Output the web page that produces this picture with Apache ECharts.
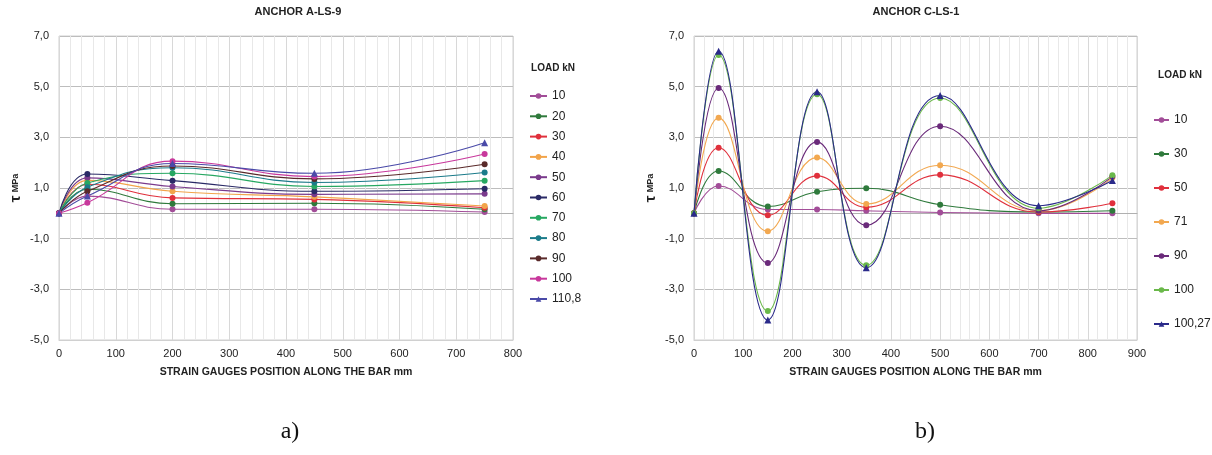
<!DOCTYPE html>
<html>
<head>
<meta charset="utf-8">
<script src="https://cdn.jsdelivr.net/npm/echarts@6/dist/echarts.min.js"></script>
<style>
html,body{margin:0;padding:0;background:#fff;}
#c{width:1212px;height:455px;}
</style>
</head>
<body>
<div id="c"></div>
<script>
// ---------- DATA ----------
const titleA = 'ANCHOR A-LS-9';
const titleB = 'ANCHOR C-LS-1';
const xNameText = 'STRAIN GAUGES POSITION ALONG THE BAR mm';
const legendTitle = 'LOAD kN';

// Chart a) gauge positions (mm)
const posA = [0, 50, 200, 450, 750];
const loadsA = ['10', '20', '30', '40', '50', '60', '70', '80', '90', '100', '110,8'];
const a10   = [0, 0.68, 0.16, 0.16, 0.05];
const a20   = [0, 0.95, 0.38, 0.40, 0.16];
const a30   = [0, 1.15, 0.61, 0.55, 0.22];
const a40   = [0, 1.30, 0.87, 0.65, 0.29];
const a50   = [0, 1.40, 1.06, 0.75, 0.77];
const a60   = [0, 1.55, 1.29, 0.87, 0.97];
const a70   = [0, 1.20, 1.58, 1.06, 1.29];
const a80   = [0, 1.03, 1.80, 1.22, 1.61];
const a90   = [0, 0.87, 1.87, 1.36, 1.94];
const a100  = [0, 0.42, 2.06, 1.45, 2.34];
const a1108 = [0, 0.68, 1.97, 1.58, 2.79];

// Chart b) gauge positions (mm)
const posB = [0, 50, 150, 250, 350, 500, 700, 850];
const loadsB = ['10', '30', '50', '71', '90', '100', '100,27'];
const b10    = [0, 1.08, 0.15, 0.15, 0.10, 0.03, 0.00, 0.00];
const b30    = [0, 1.67, 0.27, 0.85, 0.99, 0.34, 0.05, 0.10];
const b50    = [0, 2.59, -0.08, 1.48, 0.24, 1.52, 0.05, 0.40];
const b71    = [0, 3.77, -0.71, 2.20, 0.37, 1.90, 0.10, 1.40];
const b90    = [0, 4.95, -1.96, 2.82, -0.47, 3.44, 0.10, 1.45];
const b100   = [0, 6.25, -3.86, 4.70, -2.05, 4.55, 0.20, 1.50];
const b10027 = [0, 6.40, -4.21, 4.80, -2.15, 4.65, 0.30, 1.30];

// axis ranges / ticks
const yMin = -5, yMax = 7, yStep = 2;
const xMaxA = 800, xMaxB = 900, xStep = 100;

// ---------- STYLE ----------
const colorsA = ['#a24d98', '#2f7a3c', '#e0303c', '#f2a44a', '#7a3a8c', '#2a2a66', '#27a862', '#1b7b8a', '#5a2a2a', '#c8389c', '#4a4aa8'];
const colorsB = ['#a24d98', '#2f7a3c', '#e0303c', '#f2a850', '#6a2a7a', '#6ab84a', '#2a2a8a'];
const valsA = [a10, a20, a30, a40, a50, a60, a70, a80, a90, a100, a1108];
const valsB = [b10, b30, b50, b71, b90, b100, b10027];
const FONT = 'Liberation Sans';

function pairs(xs, ys) { return xs.map((x, i) => [x, ys[i]]); }

const series = [];
loadsA.forEach((n, i) => {
  series.push({
    name: 'A:' + n, type: 'line', xAxisIndex: 0, yAxisIndex: 0,
    data: pairs(posA, valsA[i]), smooth: 0.45,
    symbol: n === '110,8' ? 'triangle' : 'circle', symbolSize: n === '110,8' ? 7 : 6,
    lineStyle: { width: 1.1, color: colorsA[i] }, itemStyle: { color: colorsA[i] },
    z: 3
  });
});
loadsB.forEach((n, i) => {
  series.push({
    name: 'B:' + n, type: 'line', xAxisIndex: 2, yAxisIndex: 1,
    data: pairs(posB, valsB[i]), smooth: 0.45,
    symbol: n === '100,27' ? 'triangle' : 'circle', symbolSize: n === '100,27' ? 7 : 6,
    lineStyle: { width: 1.1, color: colorsB[i] }, itemStyle: { color: colorsB[i] },
    z: 3
  });
});

function yAxisCfg(gi) {
  return {
    type: 'value', gridIndex: gi, min: yMin, max: yMax, interval: yStep,
    name: '{t|τ} {m|MPa}', nameLocation: 'middle', nameGap: 36, nameRotate: 90,
    nameTextStyle: { rich: { t: { fontSize: 15, fontWeight: 'bold', fontFamily: FONT, color: '#222' }, m: { fontSize: 9, fontWeight: 'bold', fontFamily: FONT, color: '#222' } } },
    axisLine: { show: false }, axisTick: { show: false },
    axisLabel: { formatter: v => v.toFixed(1).replace('.', ','), fontFamily: FONT, fontSize: 11, color: '#222', margin: 10 },
    splitLine: { show: true, lineStyle: { color: '#bdbdbd', width: 1 } }
  };
}
function xAxisCfg(gi, max) {
  return {
    type: 'value', gridIndex: gi, min: 0, max: max, interval: xStep,
    name: xNameText, nameLocation: 'middle', nameGap: 27,
    nameTextStyle: { fontFamily: FONT, fontSize: 10.5, fontWeight: 'bold', color: '#222' },
    axisLine: { show: true, onZero: false, lineStyle: { color: '#d0d0d0' } }, axisTick: { show: false },
    axisLabel: { fontFamily: FONT, fontSize: 11, color: '#222', margin: 8 },
    splitLine: { show: true, lineStyle: { color: '#d8d8d8', width: 1 } },
    minorTick: { show: false, splitNumber: 5 },
    minorSplitLine: { show: true, lineStyle: { color: '#e8e8e8', width: 1 } }
  };
}
function zeroAxisCfg(gi, max) {
  return {
    type: 'value', gridIndex: gi, min: 0, max: max, interval: xStep,
    axisLine: { show: true, onZero: true, lineStyle: { color: '#b0b0b0', width: 1 } },
    axisTick: { show: false }, axisLabel: { show: false }, splitLine: { show: false }
  };
}

const option = {
  backgroundColor: '#fff',
  animation: false,
  grid: [
    { left: 59, top: 36, width: 454, height: 304, show: true, borderColor: '#d0d0d0', borderWidth: 1 },
    { left: 694, top: 36, width: 443, height: 304, show: true, borderColor: '#d0d0d0', borderWidth: 1 }
  ],
  xAxis: [xAxisCfg(0, xMaxA), zeroAxisCfg(0, xMaxA), xAxisCfg(1, xMaxB), zeroAxisCfg(1, xMaxB)],
  yAxis: [yAxisCfg(0), yAxisCfg(1)],
  legend: [
    {
      orient: 'vertical', left: 524, top: 85, itemGap: 8.3, itemWidth: 17, itemHeight: 7,
      data: loadsA.map(n => 'A:' + n), formatter: nm => nm.split(':')[1],
      textStyle: { fontFamily: FONT, fontSize: 12, color: '#222' }, selectedMode: false
    },
    {
      orient: 'vertical', left: 1148, top: 109, itemGap: 22, itemWidth: 15, itemHeight: 7,
      data: loadsB.map(n => 'B:' + n), formatter: nm => nm.split(':')[1],
      textStyle: { fontFamily: FONT, fontSize: 12, color: '#222' }, selectedMode: false
    }
  ],
  graphic: [
    { type: 'text', x: 298, y: 6, style: { text: titleA, textAlign: 'center', font: 'bold 11px ' + FONT, fill: '#222' } },
    { type: 'text', x: 916, y: 6, style: { text: titleB, textAlign: 'center', font: 'bold 11px ' + FONT, fill: '#222' } },
    { type: 'text', x: 553, y: 63, style: { text: legendTitle, textAlign: 'center', font: 'bold 10px ' + FONT, fill: '#222' } },
    { type: 'text', x: 1180, y: 70, style: { text: legendTitle, textAlign: 'center', font: 'bold 10px ' + FONT, fill: '#222' } },
    { type: 'text', x: 290, y: 420, style: { text: 'a)', textAlign: 'center', font: '24px "Liberation Serif"', fill: '#111' } },
    { type: 'text', x: 925, y: 420, style: { text: 'b)', textAlign: 'center', font: '24px "Liberation Serif"', fill: '#111' } }
  ],
  series: series
};

const chart = echarts.init(document.getElementById('c'), null, { renderer: 'canvas' });
chart.setOption(option);
</script>
</body>
</html>
